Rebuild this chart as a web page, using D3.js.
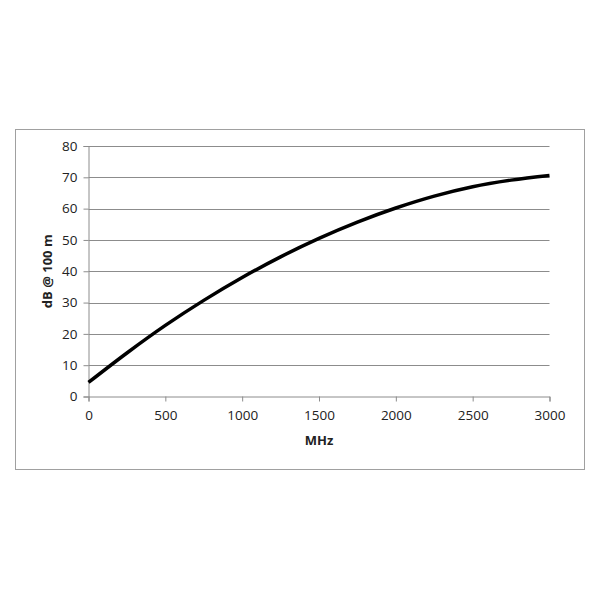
<!DOCTYPE html>
<html>
<head>
<meta charset="utf-8">
<script src="https://cdn.jsdelivr.net/npm/d3@7"></script>
<style>
  body { margin: 0; background: #fff; }
  text { font-family: "Open Sans", "Liberation Sans", sans-serif; }
</style>
</head>
<body>
<svg id="chart" width="600" height="600"></svg>
<script>
// loss vs frequency
const freqs = [0, 250, 500, 750, 1000, 1250, 1500, 1750, 2000, 2250, 2500, 2750, 3000];
const lossDb = [4.5, 13.9, 22.7, 30.7, 38.0, 44.6, 50.5, 55.7, 60.2, 64.0, 67.0, 69.1, 70.6];
const xTicks = [0, 500, 1000, 1500, 2000, 2500, 3000];
const yTicks = [0, 10, 20, 30, 40, 50, 60, 70, 80];

const svg = d3.select("#chart");

// outer chart frame
svg.append("rect")
  .attr("x", 15.5).attr("y", 129.5)
  .attr("width", 569).attr("height", 340)
  .attr("fill", "#fff").attr("stroke", "#a0a0a0");

const plotL = 88.5, plotR = 549.5, plotT = 146, plotB = 396.5;

const x = d3.scaleLinear().domain([0, 3000]).range([plotL, plotR]);
const y = d3.scaleLinear().domain([0, 80]).range([plotB, plotT]);

// gridlines
svg.append("g")
  .selectAll("line")
  .data(yTicks.slice(1))
  .join("line")
  .attr("x1", plotL).attr("x2", plotR)
  .attr("y1", d => Math.round(y(d)) + 0.5)
  .attr("y2", d => Math.round(y(d)) + 0.5)
  .attr("stroke", "#8c8c8c");

const yAxis = svg.append("g")
  .attr("transform", `translate(${plotL},0)`)
  .call(d3.axisLeft(y).tickValues(yTicks).tickSize(5).tickPadding(6));

const xAxis = svg.append("g")
  .attr("transform", `translate(0,${plotB})`)
  .call(d3.axisBottom(x).tickValues(xTicks).tickSize(5).tickPadding(9).tickFormat(d3.format("d")));

[yAxis, xAxis].forEach(g => {
  g.select(".domain").attr("stroke", "#8c8c8c");
  g.selectAll(".tick line").attr("stroke", "#8c8c8c");
  g.selectAll(".tick text").attr("fill", "#222").attr("font-size", 13.5)
    .style("font-family", "'Open Sans', 'Liberation Sans', sans-serif");
});

// the curve
const line = d3.line()
  .x((d, i) => x(freqs[i]))
  .y(d => y(d))
  .curve(d3.curveCatmullRom.alpha(0.5));

svg.append("path")
  .datum(lossDb)
  .attr("d", line)
  .attr("fill", "none")
  .attr("stroke", "#000")
  .attr("stroke-width", 3.5);

// axis titles
svg.append("text")
  .attr("x", (plotL + plotR) / 2).attr("y", 445)
  .attr("text-anchor", "middle")
  .attr("font-size", 13).attr("font-weight", "bold").attr("fill", "#222")
  .text("MHz");

svg.append("text")
  .attr("transform", `translate(52,${(plotT + plotB) / 2}) rotate(-90)`)
  .attr("text-anchor", "middle")
  .attr("font-size", 13).attr("font-weight", "bold").attr("fill", "#222")
  .text("dB @ 100 m");
</script>
</body>
</html>
